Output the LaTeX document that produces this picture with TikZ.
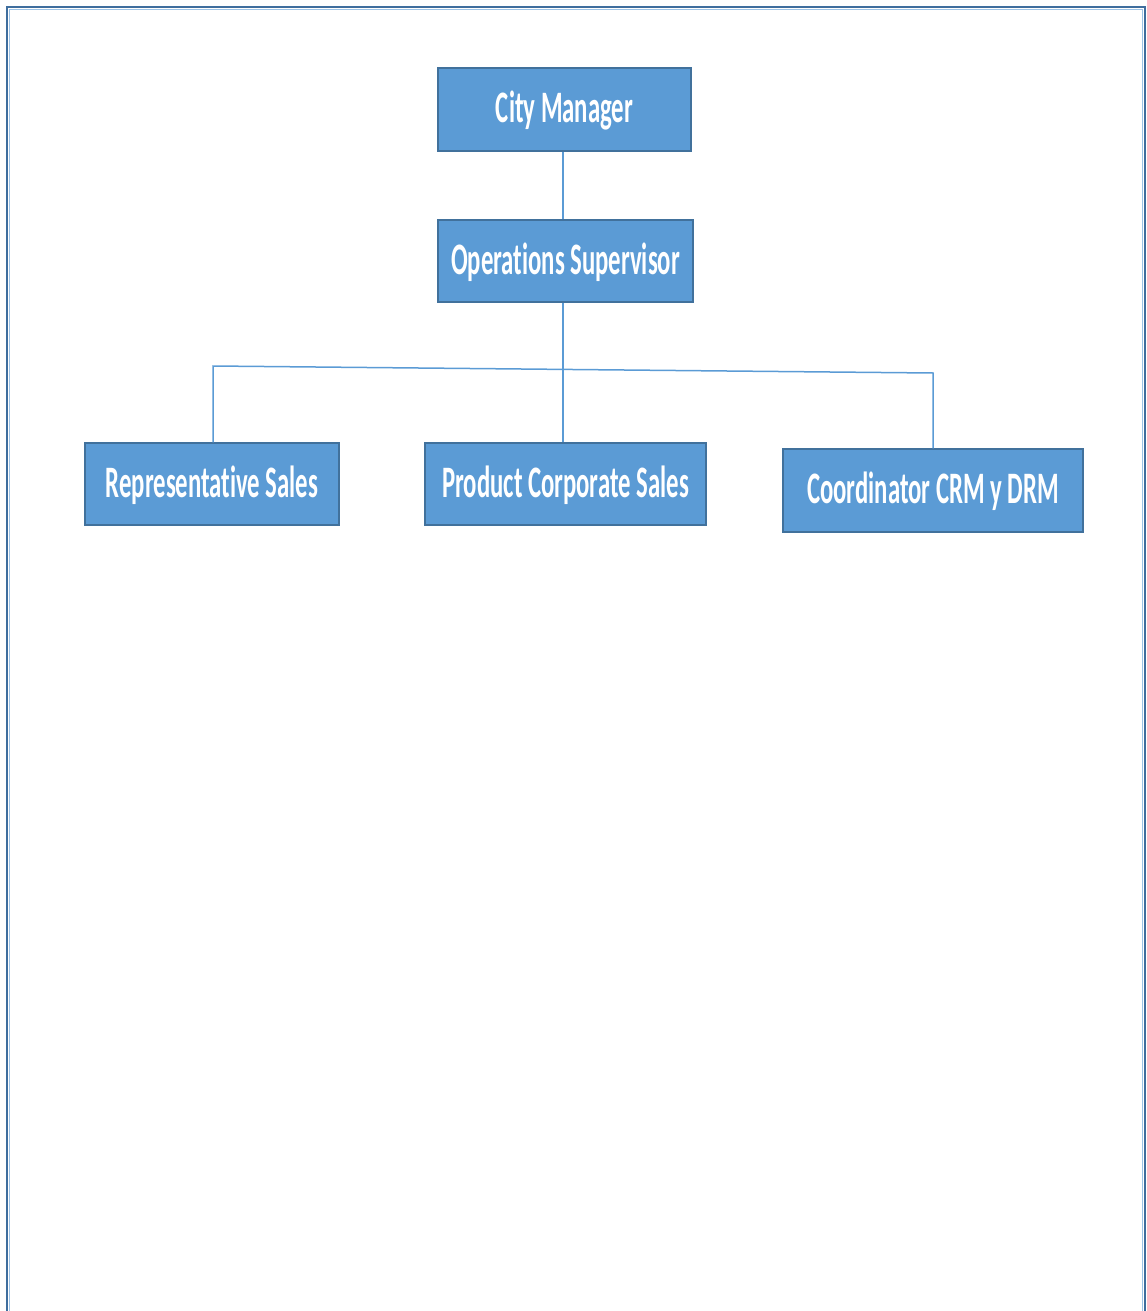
\documentclass[tikz,border=0pt]{standalone}
\usepackage{fontspec}
\newfontfamily\boxfont[FakeStretch=0.55, Ligatures=NoCommon]{Carlito}
\definecolor{boxblue}{HTML}{5B9BD5}
\definecolor{edgeblue}{HTML}{41719C}
\definecolor{framedark}{HTML}{3F6E9E}
\definecolor{framelight}{HTML}{9DC3E6}
\begin{document}
\begin{tikzpicture}[x=1pt, y=-1pt,
		rolebox/.style={draw=edgeblue, line width=1.5pt, fill=boxblue, text=white, inner sep=0pt,
			minimum height=82pt, text height=33pt, text depth=7pt,
			font=\boxfont\bfseries\fontsize{45}{50}\selectfont},
		link/.style={draw=boxblue, line width=1.5pt}]
			\useasboundingbox (0,0) rectangle (1147,1311);
			\draw [line width=2.5pt, framedark] (7,1320) -- (7,7) -- (1145,7) -- (1145,1320);
			\draw [line width=1pt, framelight] (9.5,1320) -- (9.5,9.5) -- (1142.5,9.5) -- (1142.5,1320);
			\node[rolebox, minimum width=253pt, minimum height=83pt] (cm) at (564.5,109.5) {City Manager};
			\node[rolebox, minimum width=255pt] (os) at (565.5,261) {Operations Supervisor};
			\node[rolebox, minimum width=254pt] (rs) at (212,484) {Representative Sales};
			\node[rolebox, minimum width=281pt] (pcs) at (565.5,484) {Product Corporate Sales};
			\node[rolebox, minimum width=300pt, minimum height=83pt] (cc) at (933,490.5) {Coordinator CRM y DRM};
			\coordinate (jl) at (213,366);
			\coordinate (jr) at (933,373);
			\draw [link] (cm.south -| 563,0) -- (os.north -| 563,0);
			\draw [link] (os.south -| 563,0) -- (pcs.north -| 563,0);
			\draw [link] (rs.north -| jl) -- (jl) -- (jr) -- (cc.north -| jr);
		\end{tikzpicture}
\end{document}
